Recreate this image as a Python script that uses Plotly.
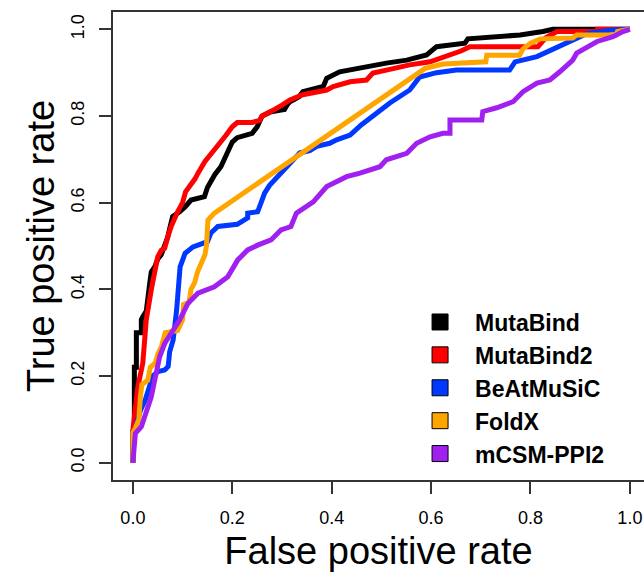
import plotly.graph_objects as go

# ---- data ----
names = ["MutaBind", "MutaBind2", "BeAtMuSiC", "FoldX", "mCSM-PPI2"]
colors = ["#000000", "#FF0000", "#0038FF", "#FFA500", "#A020F0"]

mutabind_fpr = [0, 0, 0.003, 0.003, 0.007, 0.007, 0.017, 0.017, 0.02, 0.027, 0.034, 0.037, 0.044, 0.05, 0.057, 0.064,
                0.07, 0.075, 0.08, 0.094, 0.105, 0.117, 0.135, 0.144, 0.15, 0.157, 0.165, 0.177, 0.185, 0.191, 0.2,
                0.21, 0.225, 0.24, 0.25, 0.26, 0.278, 0.305, 0.31, 0.316, 0.335, 0.342, 0.383, 0.39, 0.416, 0.45,
                0.51, 0.551, 0.591, 0.611, 0.668, 0.674, 0.779, 0.825, 0.845, 1.0]
mutabind_tpr = [0, 0.07, 0.07, 0.22, 0.22, 0.30, 0.30, 0.33, 0.337, 0.35, 0.415, 0.44, 0.452, 0.47, 0.48, 0.498,
                0.52, 0.545, 0.568, 0.579, 0.59, 0.606, 0.61, 0.614, 0.635, 0.652, 0.665, 0.683, 0.705, 0.721, 0.74,
                0.75, 0.755, 0.76, 0.775, 0.80, 0.81, 0.815, 0.825, 0.833, 0.845, 0.856, 0.868, 0.887, 0.902, 0.91,
                0.922, 0.929, 0.941, 0.96, 0.968, 0.978, 0.987, 0.995, 1.0, 1.0]

mutabind2_fpr = [0, 0, 0.003, 0.01, 0.02, 0.027, 0.037, 0.045, 0.05, 0.057, 0.064, 0.07, 0.077, 0.09, 0.1, 0.106,
                 0.114, 0.125, 0.131, 0.145, 0.164, 0.175, 0.187, 0.2, 0.21, 0.24, 0.255, 0.26, 0.27, 0.285, 0.3,
                 0.316, 0.342, 0.39, 0.403, 0.437, 0.47, 0.483, 0.51, 0.557, 0.598, 0.631, 0.66, 0.678, 0.815, 0.83,
                 0.853, 0.935, 0.935, 1.0]
mutabind2_tpr = [0, 0.075, 0.106, 0.175, 0.23, 0.33, 0.399, 0.45, 0.475, 0.49, 0.495, 0.52, 0.545, 0.579, 0.6, 0.625,
                 0.637, 0.655, 0.668, 0.695, 0.722, 0.74, 0.755, 0.775, 0.785, 0.785, 0.79, 0.80, 0.805, 0.815, 0.825,
                 0.837, 0.849, 0.86, 0.868, 0.879, 0.883, 0.899, 0.906, 0.918, 0.925, 0.937, 0.95, 0.96, 0.96, 0.98,
                 0.995, 0.995, 1.0, 1.0]

beatmusic_fpr = [0, 0, 0.005, 0.01, 0.015, 0.025, 0.04, 0.05, 0.064, 0.071, 0.074, 0.081, 0.088, 0.095, 0.105, 0.121,
                 0.141, 0.15, 0.157, 0.171, 0.21, 0.217, 0.231, 0.231, 0.251, 0.258, 0.265, 0.275, 0.285, 0.295,
                 0.305, 0.318, 0.336, 0.356, 0.37, 0.396, 0.41, 0.437, 0.46, 0.483, 0.517, 0.557, 0.577, 0.611, 0.651,
                 0.758, 0.769, 0.813, 0.859, 0.889, 0.913, 0.96, 1.0]
beatmusic_tpr = [0, 0.07, 0.08, 0.10, 0.12, 0.145, 0.2, 0.21, 0.214, 0.222, 0.256, 0.283, 0.352, 0.452, 0.483, 0.498,
                 0.506, 0.51, 0.53, 0.545, 0.55, 0.556, 0.565, 0.576, 0.579, 0.60, 0.622, 0.64, 0.652, 0.665,
                 0.675, 0.69, 0.715, 0.72, 0.73, 0.737, 0.745, 0.756, 0.78, 0.80, 0.83, 0.86, 0.89, 0.90, 0.906,
                 0.906, 0.925, 0.937, 0.96, 0.975, 0.99, 0.998, 1.0]

foldx_fpr = [0, 0, 0.005, 0.012, 0.015, 0.018, 0.03, 0.035, 0.045, 0.05, 0.058, 0.065, 0.09, 0.095, 0.1, 0.102,
             0.113, 0.117, 0.124, 0.13, 0.137, 0.145, 0.148, 0.151, 0.164, 0.588, 0.624, 0.658, 0.68, 0.71, 0.712,
             0.778, 0.785, 0.8, 0.82, 0.885, 0.893, 0.972, 0.975, 1.0]
foldx_tpr = [0, 0.07, 0.08, 0.10, 0.15, 0.18, 0.19, 0.22, 0.23, 0.25, 0.27, 0.30, 0.305, 0.32, 0.33, 0.365,
             0.37, 0.40, 0.415, 0.44, 0.46, 0.48, 0.50, 0.56, 0.576, 0.91, 0.92, 0.922, 0.925, 0.925, 0.94,
             0.94, 0.955, 0.968, 0.978, 0.98, 0.987, 0.987, 0.995, 1.0]

mcsm_fpr = [0, 0.003, 0.005, 0.017, 0.027, 0.037, 0.044, 0.054, 0.064, 0.077, 0.094, 0.111, 0.131, 0.164, 0.191,
            0.211, 0.231, 0.251, 0.278, 0.298, 0.318, 0.329, 0.363, 0.39, 0.43, 0.457, 0.497, 0.51, 0.551, 0.571,
            0.598, 0.624, 0.638, 0.638, 0.702, 0.704, 0.732, 0.765, 0.785, 0.813, 0.839, 0.859, 0.885, 0.893,
            0.913, 0.934, 0.966, 0.986, 1.0]
mcsm_tpr = [0, 0.037, 0.068, 0.083, 0.114, 0.152, 0.191, 0.245, 0.275, 0.299, 0.329, 0.368, 0.391, 0.406, 0.429,
            0.468, 0.491, 0.502, 0.514, 0.537, 0.545, 0.576, 0.602, 0.637, 0.66, 0.668, 0.683, 0.699, 0.714, 0.737,
            0.752, 0.76, 0.76, 0.791, 0.791, 0.81, 0.819, 0.833, 0.856, 0.876, 0.883, 0.902, 0.929, 0.945,
            0.957, 0.972, 0.983, 0.995, 1.0]

x_ticks = [0, 0.2, 0.4, 0.6, 0.8, 1.0]
tick_labels = ["0.0", "0.2", "0.4", "0.6", "0.8", "1.0"]

series_x = [mutabind_fpr, mutabind2_fpr, beatmusic_fpr, foldx_fpr, mcsm_fpr]
series_y = [mutabind_tpr, mutabind2_tpr, beatmusic_tpr, foldx_tpr, mcsm_tpr]

FONT = "Liberation Sans, Arial, sans-serif"

fig = go.Figure()
for name, col, xs, ys in zip(names, colors, series_x, series_y):
    fig.add_trace(go.Scatter(x=xs, y=ys, mode="lines", name=name,
                             showlegend=False, line=dict(color=col, width=5)))
for name, col in zip(names, colors):
    fig.add_trace(go.Scatter(x=[None], y=[None], mode="markers", name=name,
                             marker=dict(symbol="square", size=16, color=col,
                                         line=dict(color="#000000", width=1))))

axis_common = dict(
    tickvals=x_ticks, ticktext=tick_labels, ticks="outside", ticklen=12, tickwidth=1.5,
    tickcolor="#333333", showline=True, linecolor="#333333", linewidth=1.5,
    showgrid=False, zeroline=False, tickfont=dict(family=FONT, size=18, color="#000000"),
)

fig.update_layout(
    width=644, height=572,
    margin=dict(l=113, r=0, t=12, b=92),
    paper_bgcolor="white", plot_bgcolor="white",
    font=dict(family=FONT, color="#000000"),
    xaxis=dict(range=[-0.04, 1.0284], mirror=True, ticklabelstandoff=9,
               title=dict(text="False positive rate", font=dict(family=FONT, size=38), standoff=12),
               **axis_common),
    yaxis=dict(range=[-0.04, 1.04], tickangle=-90, ticklabelstandoff=8,
               title=dict(text="True positive rate", font=dict(family=FONT, size=38), standoff=2),
               **axis_common),
    legend=dict(x=0.55, y=0.3835, xanchor="left", yanchor="top", bgcolor="rgba(0,0,0,0)",
                itemwidth=60, tracegroupgap=0,
                font=dict(family=FONT, size=23, weight="bold", color="#000000")),
)

fig.write_html("out.html")
